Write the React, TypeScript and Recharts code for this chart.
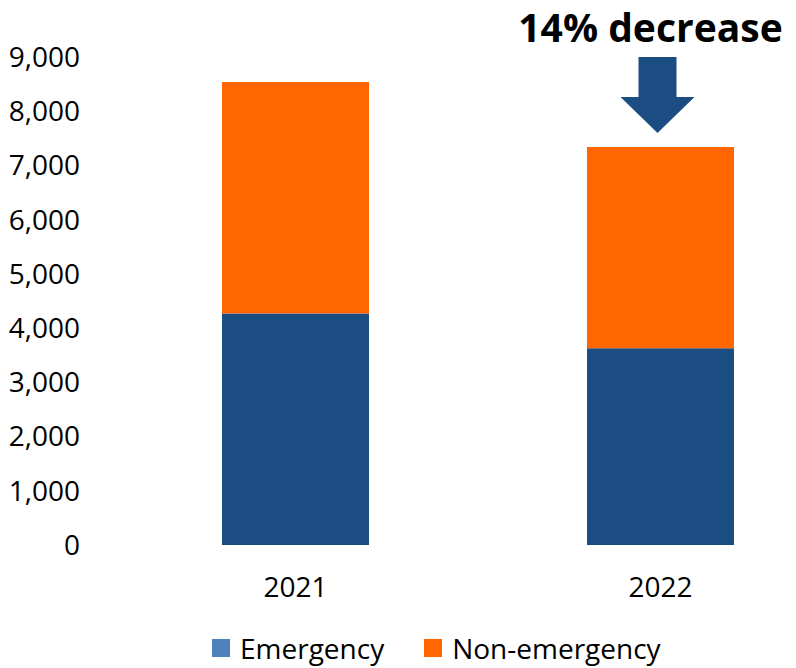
import { BarChart, Bar, XAxis, YAxis, Legend, ReferenceDot } from 'recharts';

const years = ['2021', '2022'];
const emergency = [4270, 3630];
const nonEmergency = [4270, 3710];
const yTicks = [0, 1000, 2000, 3000, 4000, 5000, 6000, 7000, 8000, 9000];
const seriesNames = ['Emergency', 'Non-emergency'];
const legendColors = ['#4f81bd', '#ff6600'];
const annotation = '14% decrease';

const BLUE = '#1c4d82';
const ORANGE = '#ff6600';
const FONT = '"Open Sans", sans-serif';

const data = years.map((year, i) => ({
  year,
  emergency: emergency[i],
  nonEmergency: nonEmergency[i],
  total: emergency[i] + nonEmergency[i],
}));

function DecreaseArrow(props: any) {
  const { cx, cy } = props;
  const tip = cy - 14;
  const x = cx - 3;
  return (
    <g>
      <path
        d={`M${x - 19},${tip - 76} L${x + 19},${tip - 76} L${x + 19},${tip - 36} L${x + 37},${tip - 36} L${x},${tip} L${x - 37},${tip - 36} L${x - 19},${tip - 36} Z`}
        fill={BLUE}
      />
      <text x={cx - 10} y={tip - 91} textAnchor="middle" fontSize={39} fontWeight="bold" fill="#000" fontFamily={FONT}>
        {annotation}
      </text>
    </g>
  );
}

function LegendRow() {
  return (
    <div style={{ display: 'flex', alignItems: 'center', paddingTop: 19, fontFamily: FONT, fontSize: 28, lineHeight: '28px', color: '#000', whiteSpace: 'nowrap' }}>
      {seriesNames.map((name, i) => (
        <div key={name} style={{ display: 'flex', alignItems: 'center', marginRight: i === 0 ? 40 : 0 }}>
          <span style={{ width: 18, height: 18, background: legendColors[i], marginRight: 10, display: 'inline-block' }} />
          <span>{name}</span>
        </div>
      ))}
    </div>
  );
}

export default function App() {
  const tick = { fill: '#000', fontSize: 28, fontFamily: FONT };
  return (
    <div style={{ position: 'absolute', left: 0, top: 0, width: 796, height: 668, overflow: 'hidden', background: '#fff' }}>
      <BarChart width={843} height={668} data={data} margin={{ top: 57, right: 0, left: 0, bottom: 0 }}>
        <XAxis dataKey="year" axisLine={false} tickLine={false} tickSize={0} tickMargin={32} tick={tick} height={70} />
        <YAxis
          domain={[0, 9000]}
          ticks={yTicks}
          interval={0}
          axisLine={false}
          tickLine={false}
          tickSize={0}
          tickMargin={33}
          width={113}
          tick={tick}
          tickFormatter={(v) => Number(v).toLocaleString('en-US')}
        />
        <Legend verticalAlign="bottom" height={53} wrapperStyle={{ left: 212, width: 'auto' }} content={<LegendRow />} />
        <Bar dataKey="emergency" name="Emergency" stackId="a" fill={BLUE} barSize={147} isAnimationActive={false} />
        <Bar dataKey="nonEmergency" name="Non-emergency" stackId="a" fill={ORANGE} barSize={147} isAnimationActive={false} />
        <ReferenceDot x="2022" y={data[1].total} shape={<DecreaseArrow />} />
      </BarChart>
    </div>
  );
}
